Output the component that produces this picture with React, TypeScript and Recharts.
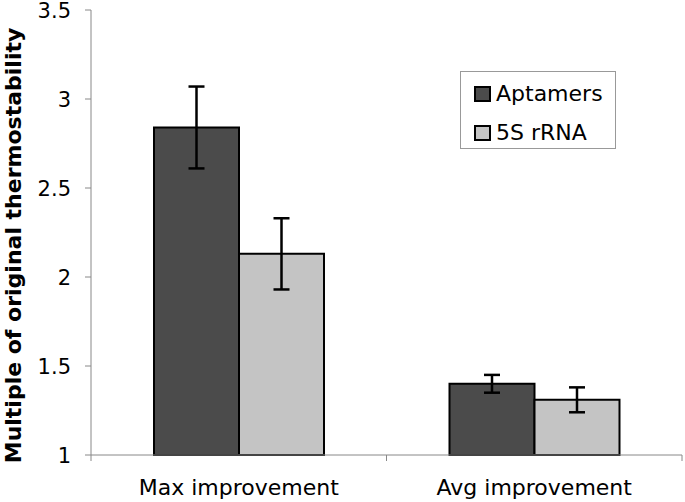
import React from 'react';
import { BarChart, Bar, XAxis, YAxis, ErrorBar, Legend } from 'recharts';

const categories = ['Max improvement', 'Avg improvement'];
const aptamers = [2.84, 1.40];
const aptamersErr = [0.23, 0.05];
const rrna = [2.13, 1.31];
const rrnaErr = [0.2, 0.07];
const yTicks = [1, 1.5, 2, 2.5, 3, 3.5];
const seriesNames = ['Aptamers', '5S rRNA'];
const seriesColors = ['#4b4b4b', '#c4c4c4'];

const data = categories.map((c, i) => ({
  name: c,
  aptamers: aptamers[i],
  aptamersErr: aptamersErr[i],
  rrna: rrna[i],
  rrnaErr: rrnaErr[i],
}));

const FONT = '"DejaVu Sans", Verdana, sans-serif';
const BAND_HALF = (685 - 91 - 3) / categories.length / 2;

const XTick = (props: any) => {
  const { x, y, payload, index } = props;
  const half = payload && payload.offset ? payload.offset : BAND_HALF;
  const last = index === categories.length - 1;
  return (
    <g>
      <line x1={x - half} y1={y} x2={x - half} y2={y + 6} stroke="#888" strokeWidth={1} />
      {last && <line x1={x + half} y1={y} x2={x + half} y2={y + 6} stroke="#888" strokeWidth={1} />}
      <text x={x} y={y + 40} textAnchor="middle" fontSize={22} fontFamily={FONT} fill="#000">
        {payload.value}
      </text>
    </g>
  );
};

const YLabel = (props: any) => {
  const vb = props.viewBox || { x: 0, y: 10, width: 91, height: 445 };
  const cx = vb.x + 21;
  const cy = vb.y + vb.height / 2 + 13;
  return (
    <text
      x={cx}
      y={cy}
      transform={`rotate(-90, ${cx}, ${cy})`}
      textAnchor="middle"
      fontSize={22}
      fontWeight="bold"
      fontFamily={FONT}
      fill="#000"
    >
      Multiple of original thermostability
    </text>
  );
};

const LegendContent = () => (
  <div
    style={{
      boxSizing: 'border-box',
      width: 156,
      height: 78,
      border: '1px solid #999',
      background: '#fff',
      paddingTop: 2,
      paddingLeft: 13,
      fontFamily: FONT,
      fontSize: 22,
      color: '#000',
    }}
  >
    {seriesNames.map((n, i) => (
      <div key={n} style={{ height: 39, display: 'flex', alignItems: 'center' }}>
        <span
          style={{
            display: 'inline-block',
            boxSizing: 'border-box',
            width: 17,
            height: 16,
            border: '2px solid #000',
            background: seriesColors[i],
            marginRight: 5,
          }}
        />
        <span style={{ lineHeight: '22px' }}>{n}</span>
      </div>
    ))}
  </div>
);

export default function App() {
  return (
    <div style={{ position: 'absolute', left: 0, top: 0, width: 685, height: 502, background: '#fff' }}>
      <BarChart
        width={685}
        height={502}
        data={data}
        margin={{ top: 10, right: 3, left: 0, bottom: 0 }}
        barCategoryGap={63}
        barGap={0}
      >
        <XAxis
          dataKey="name"
          height={47}
          stroke="#888"
          tickLine={false}
          tickSize={0}
          tickMargin={0}
          tick={<XTick />}
          interval={0}
        />
        <YAxis
          width={91}
          domain={[1, 3.5]}
          ticks={yTicks}
          interval={0}
          stroke="#888"
          tickSize={6}
          tickMargin={14}
          tick={{ fontSize: 21, fill: '#000', fontFamily: FONT, dy: 1 }}
          label={<YLabel />}
        />
        <Legend
          layout="vertical"
          align="center"
          verticalAlign="middle"
          content={<LegendContent />}
          wrapperStyle={{ left: 460, top: 71, width: 156, height: 78 }}
        />
        <Bar dataKey="aptamers" name={seriesNames[0]} fill={seriesColors[0]} stroke="#000" strokeWidth={2} isAnimationActive={false}>
          <ErrorBar dataKey="aptamersErr" width={8} stroke="#000" strokeWidth={2.5} isAnimationActive={false} />
        </Bar>
        <Bar dataKey="rrna" name={seriesNames[1]} fill={seriesColors[1]} stroke="#000" strokeWidth={2} isAnimationActive={false}>
          <ErrorBar dataKey="rrnaErr" width={8} stroke="#000" strokeWidth={2.5} isAnimationActive={false} />
        </Bar>
      </BarChart>
    </div>
  );
}
